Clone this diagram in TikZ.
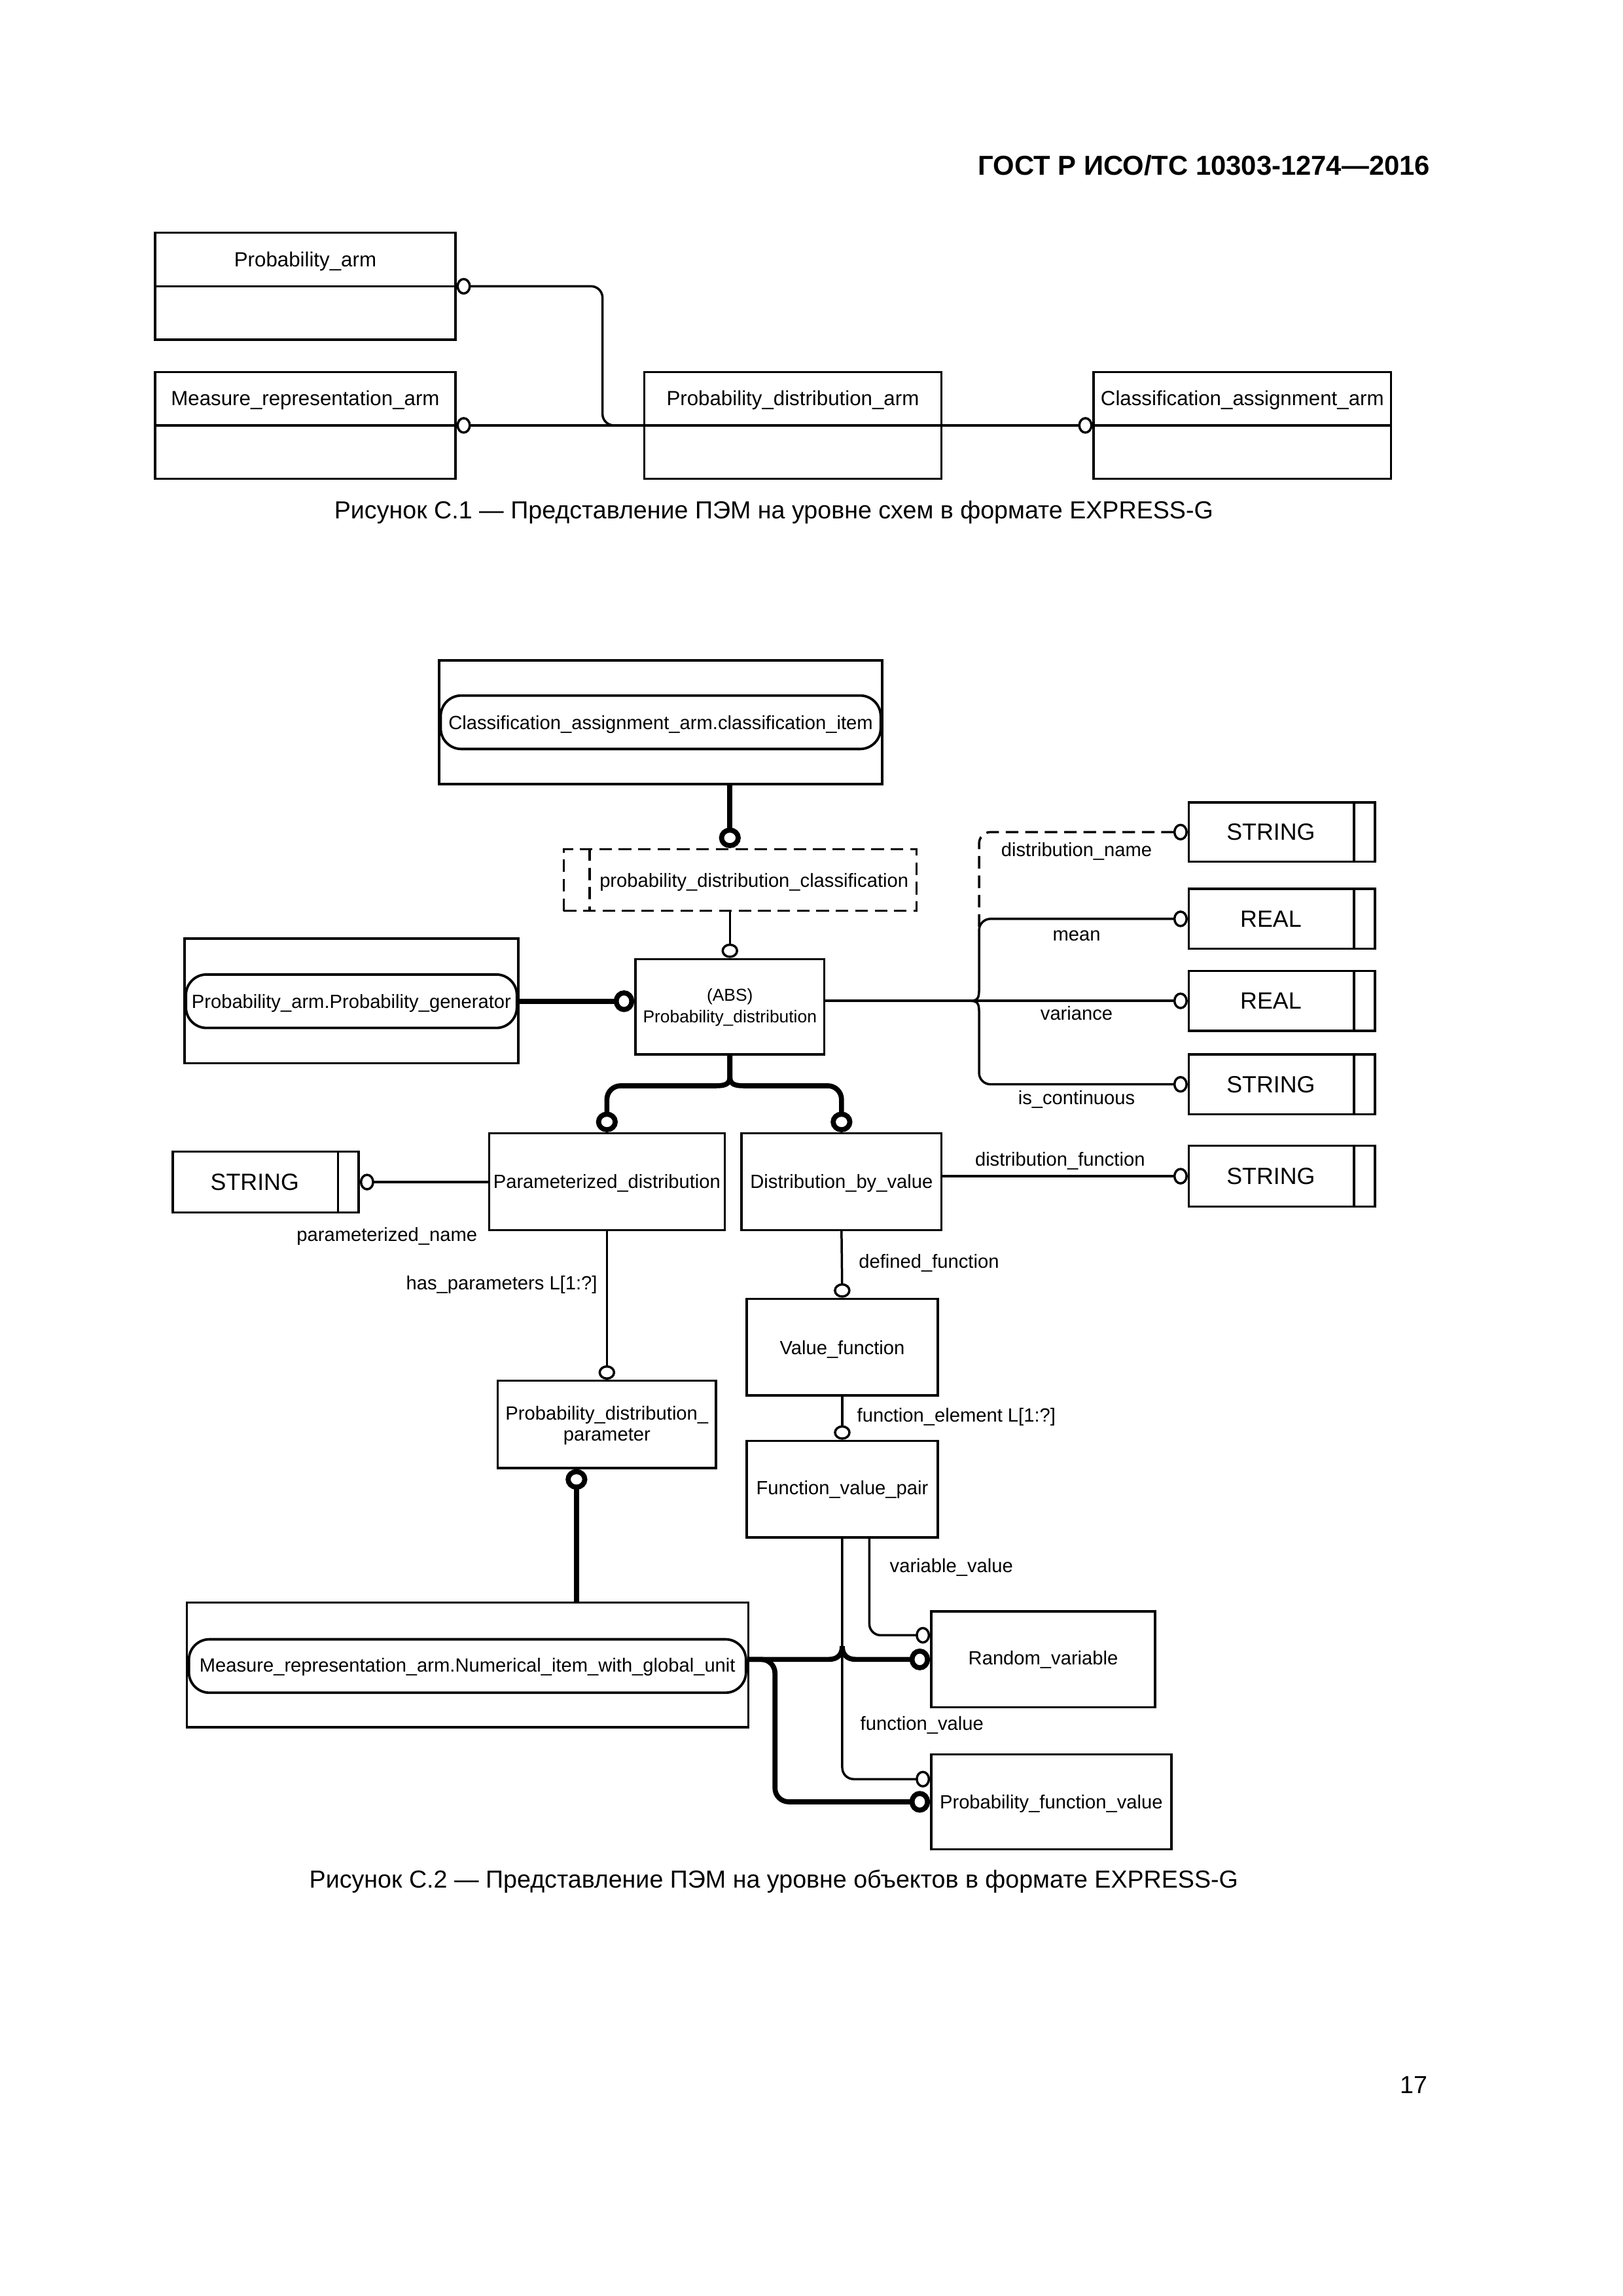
\documentclass[tikz,border=0pt]{standalone}
\usepackage{fontspec}
\setmainfont{Liberation Sans}
\usetikzlibrary{arrows.meta,calc,fit}
\tikzset{
  ocirc/.tip={Circle[open,length=6.3pt,width=7.3pt]},
  ocircB/.tip={Circle[open,length=9pt,width=9.5pt]},
  ln/.style={line width=1pt},
  thk/.style={line width=2.2pt},
  dsh/.style={dash pattern=on 5.5pt off 3pt},
  box/.style={draw, line width=1pt, inner sep=0pt, rectangle},
  pill/.style={draw, line width=1.1pt, rounded corners=9pt, inner sep=0pt},
  selbox/.style={draw, line width=1pt, inner sep=0pt, dsh},
  fA/.style={inner sep=0pt, font=\fontsize{8.95}{10.5}\selectfont},
  fB/.style={inner sep=0pt, font=\fontsize{8.35}{9.6}\selectfont},
  fC/.style={inner sep=0pt, font=\fontsize{7.55}{9.5}\selectfont},
  fT/.style={inner sep=0pt, font=\fontsize{10.25}{12}\selectfont},
  fcap/.style={inner sep=0pt, font=\fontsize{10.77}{13}\selectfont},
  fhdr/.style={inner sep=0pt, font=\bfseries\fontsize{11.97}{14}\selectfont}
}
% C.1 entity box: name, x1, y1, x2, y2, text
\newcommand\armbox[6]{%
  \node[box, fit={(#2,#3) (#4,#5)}] (#1) {};
  \draw[ln] (#1.west) -- (#1.east);
  \node[fA] (#1t) at ($(#1.north)!0.5!(#1.center)+(0,1.5)$) {#6};
}
% simple type box: name, x1, y1, x2, y2, text
\newcommand\stype[6]{%
  \node[box, fit={(#2,#3) (#4,#5)}] (#1) {};
  \draw[ln] ($(#1.north east)+(-15,0)$) -- ($(#1.south east)+(-15,0)$);
  \node[fT] (#1t) at ($(#1.center)+(-7.5,0)$) {#6};
}
% plain entity box with centred text: name, x1, y1, x2, y2, text y, text
\newcommand\ebox[7]{%
  \node[box, fit={(#2,#3) (#4,#5)}] (#1) {};
  \node[fB] (#1t) at (#1.center |- 0,#6) {#7};
}
\begin{document}
\begin{tikzpicture}[x=0.0225cm,y=-0.0225cm]
\fill[white] (0,0) rectangle (1108.5,1568);
\useasboundingbox (0,0) rectangle (1108.5,1568);

% header
\node[fhdr, anchor=east] (hdr) at (977,113) {ГОСТ Р ИСО/ТС 10303-1274—2016};

% ---------------- Figure C.1
\armbox{pa}{106}{159}{311}{232}{Probability\_arm}
\armbox{mra}{106}{254}{311}{327}{Measure\_representation\_arm}
\armbox{pda}{440}{254}{643}{327}{Probability\_distribution\_arm}
\armbox{caa}{747}{254}{950}{327}{Classification\_assignment\_arm}
\draw[ln, rounded corners=5pt, {ocirc}-] (pa.east) -- (411.5,195.5) -- (411.5,290.5) -- (pda.west);
\draw[ln, {ocirc}-] (mra.east) -- (pda.west);
\draw[ln, -{ocirc}] (pda.east) -- (caa.west);
\node[fcap] (cap1) at (528.5,350) {Рисунок С.1 — Представление ПЭМ на уровне схем в формате EXPRESS-G};

% ---------------- Figure C.2
\node[box, fit={(300,451) (602.5,535.5)}] (ci) {};
\node[pill, fit={(301,475) (601.5,511.5)}] (cip) {};
\node[fB] (cipt) at (451.25,495) {Classification\_assignment\_arm.classification\_item};

\node[selbox, fit={(385,580) (626,622)}] (sel) {};
\draw[ln, dsh] ($(sel.north west)+(18.5,0)$) -- ($(sel.south west)+(18.5,0)$);
\node[fB] (selt) at (515,602.5) {probability\_distribution\_classification};

\node[box, fit={(434,655) (563,720)}] (pd) {};
\node[fC] (pdt1) at (pd.center |- 0,680.5) {(ABS)};
\node[fC] (pdt2) at (pd.center |- 0,695.5) {Probability\_distribution};
\draw[thk, -{ocircB}] (pd.north |- ci.south) -- (pd.north |- sel.north);
\draw[ln, -{ocirc}] (pd.north |- sel.south) -- (pd.north);

\node[box, fit={(126,641) (354,726)}] (gen) {};
\node[pill, fit={(127,665.5) (353,702)}] (genp) {};
\node[fB] (genpt) at (240,685) {Probability\_arm.Probability\_generator};
\draw[thk, -{ocircB}] (genp.east) -- (pd.west |- genp.east);

% simple types
\stype{s1}{812}{548}{939}{588.5}{STRING}
\stype{r1}{812}{607}{939}{648}{REAL}
\stype{r2}{812}{663}{939}{704}{REAL}
\stype{s2}{812}{720}{939}{761}{STRING}
\stype{s4}{812}{782.5}{939}{824}{STRING}
\stype{s3}{118}{786.5}{245}{828}{STRING}

% attribute brace on the right
\coordinate (cu) at (662.3,683.5);
\draw[ln, -{ocirc}] (r2.west -| pd.east) -- (r2.west);
\draw[ln, -{ocirc}] (cu) .. controls (668,683.5) and (668.7,681.5) .. (668.7,675.5) [rounded corners=5pt] -- (668.7,627.5) -- (r1.west);
\draw[ln, -{ocirc}] (cu) .. controls (668,683.5) and (668.7,685.5) .. (668.7,691.5) [rounded corners=5pt] -- (668.7,740.5) -- (s2.west);
\draw[ln, dsh, rounded corners=5pt, -{ocirc}] (668.7,633) -- (668.7,568.25) -- (s1.west);
\node[fB] (l1) at (735.3,581.5) {distribution\_name};
\node[fB] (l2) at (735.3,639) {mean};
\node[fB] (l3) at (735.3,692) {variance};
\node[fB] (l4) at (735.3,751) {is\_continuous};
\node[fB] (l5) at (724,793) {distribution\_function};

% subtypes
\ebox{param}{334}{774}{495}{840}{808}{Parameterized\_distribution}
\ebox{dbv}{506.5}{774}{643}{840}{808}{Distribution\_by\_value}
\coordinate (cb) at (498.5,735.5);
\coordinate (hb) at (0,741.5);
\draw[thk, -{ocircB}] (pd.south) -- (cb) .. controls (498.5,740.5) and (495,741.5) .. (489,741.5) [rounded corners=6pt] -- (param.north |- hb) -- (param.north);
\draw[thk, -{ocircB}] (pd.south) -- (cb) .. controls (498.5,740.5) and (502,741.5) .. (508,741.5) [rounded corners=6pt] -- (dbv.north |- hb) -- (dbv.north);

\draw[ln, {ocirc}-] (s3.east) -- (param.west |- s3.east);
\draw[ln, -{ocirc}] (s4.west -| dbv.east) -- (s4.west);
\node[fB] (lpn) at (264.3,844.5) {parameterized\_name};

\node[box, fit={(340,943) (489,1002.5)}] (pdp) {};
\node[fB] (pdpt1) at (pdp.center |- 0,966.5) {Probability\_distribution\_};
\node[fB] (pdpt2) at (pdp.center |- 0,981) {parameter};
\draw[ln, -{ocirc}] (param.south) -- (pdp.north);
\node[fB, anchor=east] (lhp) at (408.2,877.2) {has\_parameters L[1:?]};

\ebox{vf}{510}{887}{640.5}{953}{921.5}{Value\_function}
\draw[ln, -{ocirc}] (dbv.south) -- (vf.north);
\node[fB, anchor=west] (ldf) at (586.3,862.7) {defined\_function};
\ebox{fvp}{510}{984}{640.5}{1050}{1017.5}{Function\_value\_pair}
\draw[ln, -{ocirc}] (vf.south) -- (fvp.north);
\node[fB, anchor=west] (lfe) at (585.1,967.7) {function\_element L[1:?]};

\node[box, fit={(127.5,1094.5) (511,1179.5)}] (mr) {};
\node[pill, fit={(129,1119.5) (509.5,1156)}] (mrp) {};
\node[fB] (mrpt) at (319.25,1138.5) {Measure\_representation\_arm.Numerical\_item\_with\_global\_unit};
\coordinate (pdpx) at ($(pdp.south west)!0.362!(pdp.south east)$);
\draw[thk, -{ocircB}] (mr.north -| pdpx) -- (pdpx);

\ebox{rv}{636}{1100.5}{789}{1166}{1133.5}{Random\_variable}
\ebox{pfv}{636}{1198}{800}{1263}{1232}{Probability\_function\_value}

\coordinate (rvA) at ($(rv.west)+(0,-16.5)$);
\coordinate (pfvA) at ($(pfv.west)+(0,-15.5)$);
\coordinate (fvpB) at ($(fvp.south)+(18.5,0)$);
\draw[ln, rounded corners=5pt, -{ocirc}] (fvp.south) -- (fvp.south |- pfvA) -- (pfvA);
\draw[ln, rounded corners=5pt, -{ocirc}] (fvpB) -- (fvpB |- rvA) -- (rvA);

\draw[thk, -{ocircB}] (rv.west -| mrp.east) -- (566,1133.25) .. controls (572,1133.25) and (575.25,1130) .. (575.25,1124.2) .. controls (575.25,1130) and (578.5,1133.25) .. (584.5,1133.25) -- (rv.west);
\draw[thk, rounded corners=6pt, -{ocircB}] (rv.west -| mrp.east) -- (529.3,1133.25) -- (529.3,1230.5) -- (pfv.west);

\node[fB] (lvv) at (649.8,1070.5) {variable\_value};
\node[fB] (lfv) at (629.7,1178.3) {function\_value};

\node[fcap] (cap2) at (528.5,1285) {Рисунок С.2 — Представление ПЭМ на уровне объектов в формате EXPRESS-G};
\node[fcap] (pg) at (965.5,1424) {17};
\end{tikzpicture}
\end{document}
